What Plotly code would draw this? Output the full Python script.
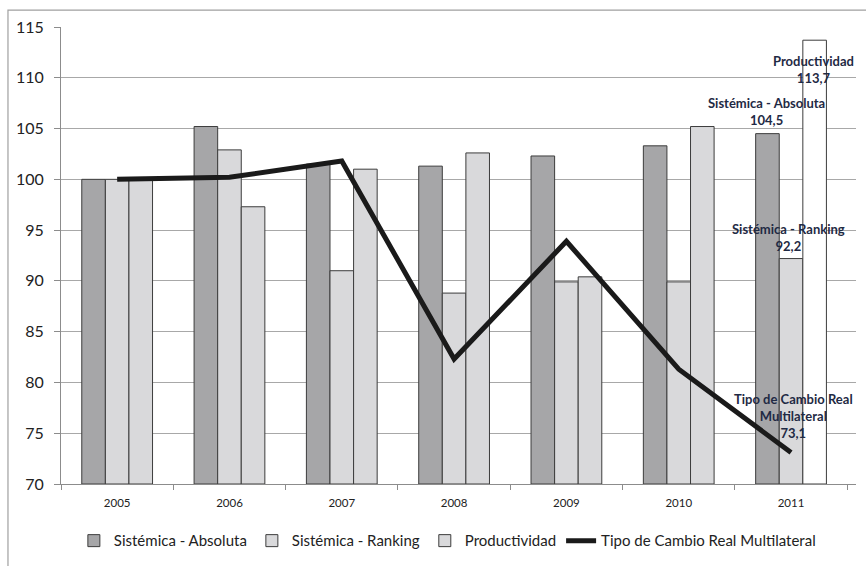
import plotly.graph_objects as go

years = ["2005", "2006", "2007", "2008", "2009", "2010", "2011"]
sistemica_absoluta = [100.0, 105.2, 101.5, 101.3, 102.3, 103.3, 104.5]
sistemica_ranking = [100.0, 102.9, 91.0, 88.8, 89.9, 89.9, 92.2]
productividad = [100.0, 97.3, 101.0, 102.6, 90.4, 105.2, 113.7]
tipo_cambio = [100.0, 100.2, 101.8, 82.3, 93.9, 81.3, 73.1]
y_ticks = [70, 75, 80, 85, 90, 95, 100, 105, 110, 115]
BASE = 70

FONT = "Lato, 'Open Sans', sans-serif"
EDGE = "#3c3c3c"
LABEL = "#1f2a44"

fig = go.Figure()
bar_specs = [
    ("Sistémica - Absoluta", sistemica_absoluta, "#a6a6a8"),
    ("Sistémica - Ranking", sistemica_ranking, "#d9d9db"),
    ("Productividad", productividad, ["#d9d9db"] * (len(years) - 1) + ["#ffffff"]),
]
for name, values, color in bar_specs:
    fig.add_trace(go.Bar(
        name=name, x=years, y=[v - BASE for v in values], base=BASE,
        customdata=values, hovertemplate="%{x}: %{customdata}<extra></extra>",
        marker=dict(color=color, line=dict(color=EDGE, width=1)),
    ))
fig.add_trace(go.Scatter(
    name="Tipo de Cambio Real Multilateral", x=years, y=tipo_cambio,
    mode="lines", line=dict(color="#1a1a1a", width=5),
))


def fmt(v):
    return f"{v:.1f}".replace(".", ",")


# Value callouts for the last year (x offset in categories, y shift in px)
notes = [
    (productividad[-1], f"Productividad<br>{fmt(productividad[-1])}", 0.2, -29),
    (sistemica_absoluta[-1], f"Sistémica - Absoluta<br>{fmt(sistemica_absoluta[-1])}", -0.22, 22),
    (sistemica_ranking[-1], f"Sistémica - Ranking<br>{fmt(sistemica_ranking[-1])}", -0.02, 21),
    (tipo_cambio[-1], f"Tipo de Cambio Real<br>Multilateral<br>{fmt(tipo_cambio[-1])}", 0.02, 37),
]
for val, text, dx, dy in notes:
    fig.add_annotation(
        x=len(years) - 1 + dx, y=val, xref="x", yref="y", text=f"<b>{text}</b>",
        showarrow=False, yshift=dy, font=dict(family=FONT, size=13, color=LABEL),
        align="center",
    )

# Outer chart frame
fig.add_shape(
    type="rect", xref="paper", yref="paper",
    x0=-0.0667, x1=1.05, y0=-0.2, y1=1.037,
    line=dict(color="#a0a0a0", width=1.2), fillcolor="rgba(0,0,0,0)", layer="below",
)

fig.update_layout(
    width=866, height=566,
    margin=dict(l=61, r=10, t=27, b=81),
    paper_bgcolor="white", plot_bgcolor="white",
    barmode="group", bargap=0.37, bargroupgap=0,
    font=dict(family=FONT, color="#222222"),
    showlegend=True,
    legend=dict(
        orientation="h", x=0.486, xanchor="center", y=-0.122, yanchor="middle",
        font=dict(family=FONT, size=15, color="#222222"),
        itemwidth=30, tracegroupgap=0,
    ),
)
fig.update_xaxes(
    type="category", showline=True, linecolor="#8c8c8c", linewidth=1,
    ticks="outside", tickson="boundaries", ticklen=5, tickcolor="#8c8c8c",
    tickfont=dict(family=FONT, size=11.5, color="#222222"),
    ticklabelstandoff=8, showgrid=False,
)
fig.update_yaxes(
    range=[70, 115], tickvals=y_ticks, showline=True, linecolor="#8c8c8c",
    linewidth=1, ticks="outside", ticklen=6, tickcolor="#8c8c8c",
    showgrid=True, gridcolor="#a8a8a8", gridwidth=1,
    tickfont=dict(family=FONT, size=16, color="#222222"),
    ticklabelstandoff=7, zeroline=False,
)

fig.write_html("out.html")
